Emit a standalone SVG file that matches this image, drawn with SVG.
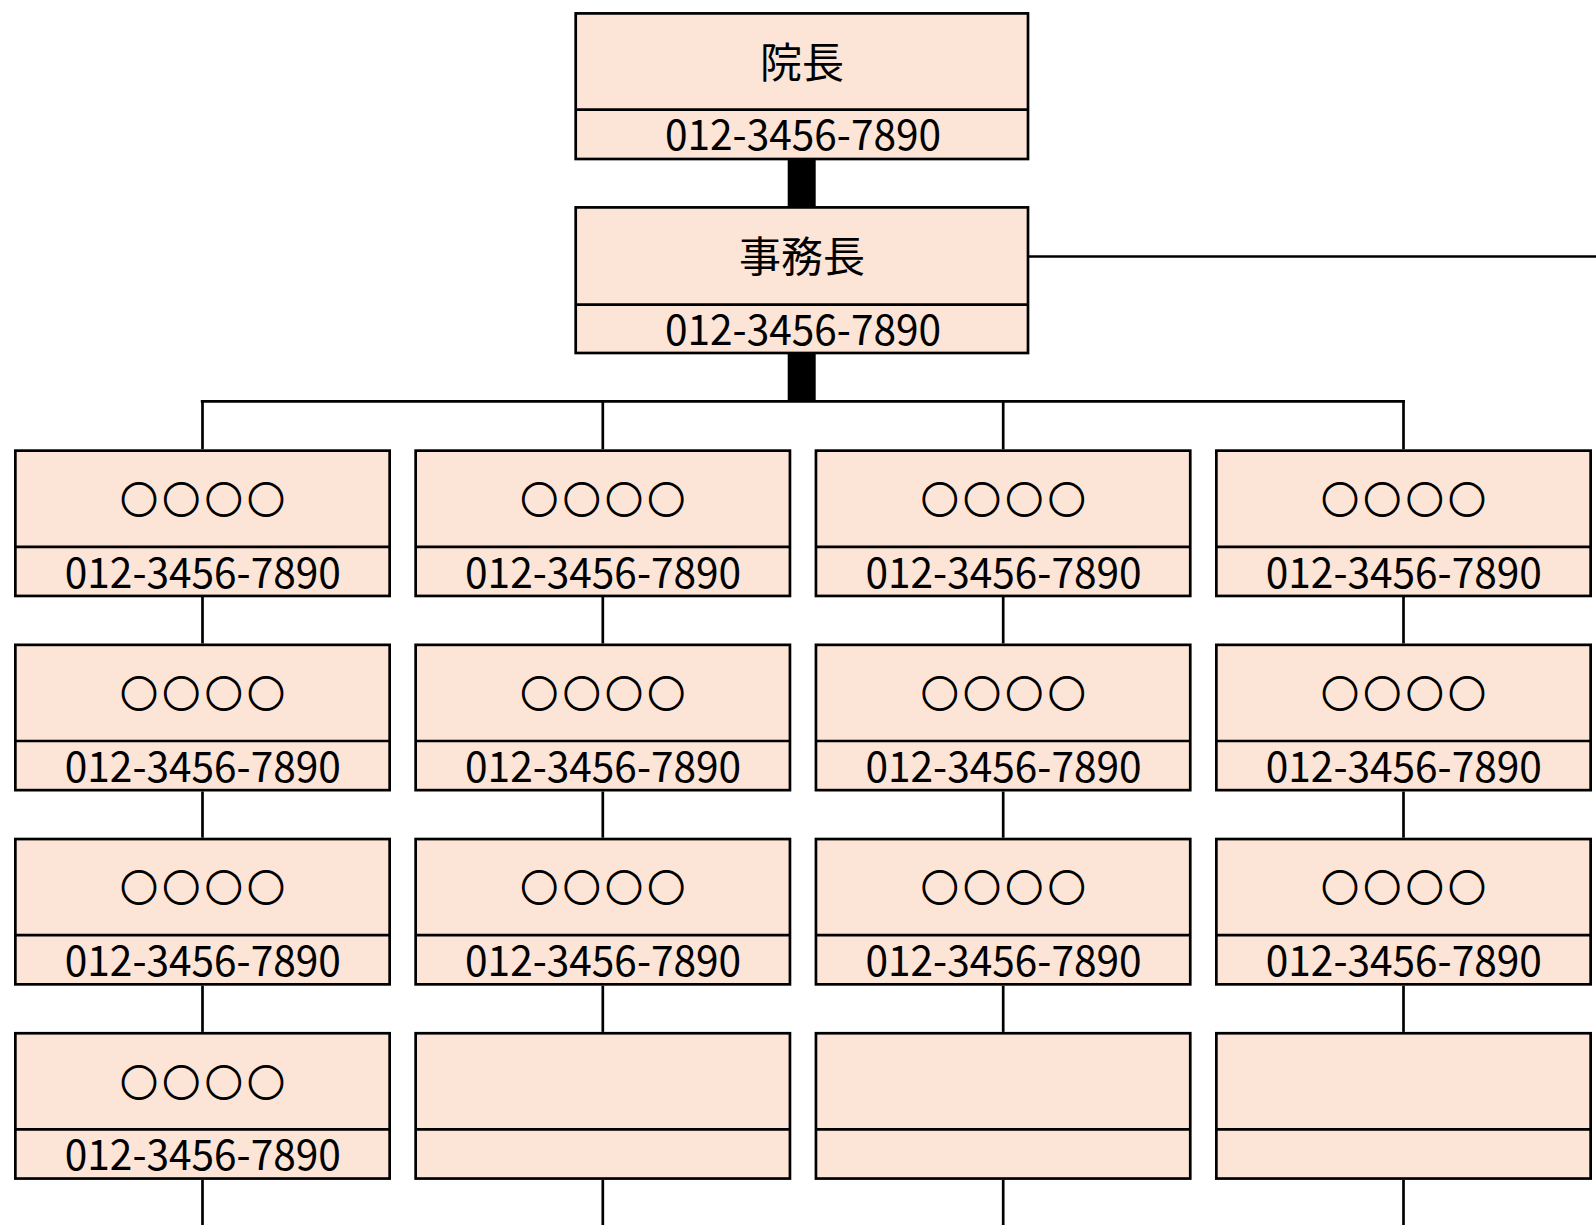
<svg xmlns="http://www.w3.org/2000/svg" width="1596" height="1225" viewBox="0 0 1596 1225">
<style>
.box{fill:#FCE4D6;stroke:#000;stroke-width:2.7}
.div{stroke:#000;stroke-width:2.7}
.ln{stroke:#000;stroke-width:2.7;fill:none}
.t{font-family:"Noto Sans CJK JP","Noto Sans CJK SC",sans-serif;fill:#000;text-anchor:middle;dominant-baseline:central}
.lab{font-size:42px}
.cir{font-size:37px;stroke:#000;stroke-width:1.3}
.ph{font-size:42px}
</style>
<rect width="1596" height="1225" fill="#fff"/>
<g id="connectors">
<rect x="787.7" y="159" width="28" height="48" fill="#000"/>
<rect x="787.7" y="353" width="28" height="48" fill="#000"/>
<line class="ln" x1="1029" y1="256.5" x2="1596" y2="256.5"/>
<line class="ln" x1="200.8" y1="401.3" x2="1404.8" y2="401.3"/>
<line class="ln" x1="202.5" y1="400" x2="202.5" y2="449.3"/>
<line class="ln" x1="602.8" y1="400" x2="602.8" y2="449.3"/>
<line class="ln" x1="1003.2" y1="400" x2="1003.2" y2="449.3"/>
<line class="ln" x1="1403.5" y1="400" x2="1403.5" y2="449.3"/>
<line class="ln" x1="202.5" y1="597" x2="202.5" y2="643.5"/>
<line class="ln" x1="202.5" y1="791.5" x2="202.5" y2="837.7"/>
<line class="ln" x1="202.5" y1="985.7" x2="202.5" y2="1031.9"/>
<line class="ln" x1="202.5" y1="1180" x2="202.5" y2="1225"/>
<line class="ln" x1="602.8" y1="597" x2="602.8" y2="643.5"/>
<line class="ln" x1="602.8" y1="791.5" x2="602.8" y2="837.7"/>
<line class="ln" x1="602.8" y1="985.7" x2="602.8" y2="1031.9"/>
<line class="ln" x1="602.8" y1="1180" x2="602.8" y2="1225"/>
<line class="ln" x1="1003.2" y1="597" x2="1003.2" y2="643.5"/>
<line class="ln" x1="1003.2" y1="791.5" x2="1003.2" y2="837.7"/>
<line class="ln" x1="1003.2" y1="985.7" x2="1003.2" y2="1031.9"/>
<line class="ln" x1="1003.2" y1="1180" x2="1003.2" y2="1225"/>
<line class="ln" x1="1403.5" y1="597" x2="1403.5" y2="643.5"/>
<line class="ln" x1="1403.5" y1="791.5" x2="1403.5" y2="837.7"/>
<line class="ln" x1="1403.5" y1="985.7" x2="1403.5" y2="1031.9"/>
<line class="ln" x1="1403.5" y1="1180" x2="1403.5" y2="1225"/>
</g>
<g id="director">
<rect class="box" x="575.7" y="13.4" width="452.3" height="145.6"/>
<line class="div" x1="575.7" y1="109.7" x2="1028" y2="109.7"/>
<text class="t lab" x="802" y="59.5">院長</text>
<text class="t ph" x="803" y="131.5" textLength="276" lengthAdjust="spacingAndGlyphs">012-3456-7890</text>
</g>
<g id="office-manager">
<rect class="box" x="575.7" y="207.4" width="452.3" height="145.6"/>
<line class="div" x1="575.7" y1="304.7" x2="1028" y2="304.7"/>
<text class="t lab" x="802" y="253">事務長</text>
<text class="t ph" x="803" y="326" textLength="276" lengthAdjust="spacingAndGlyphs">012-3456-7890</text>
</g>
<g id="n-1-1"><rect class="box" x="15.35" y="450.65" width="374.3" height="145.3"/><line class="div" x1="15.35" y1="546.8" x2="389.65" y2="546.8"/><text class="t cir" x="202.5" y="498" textLength="164" lengthAdjust="spacing">○○○○</text><text class="t ph" x="202.8" y="569" textLength="276" lengthAdjust="spacingAndGlyphs">012-3456-7890</text></g>
<g id="n-1-2"><rect class="box" x="15.35" y="644.85" width="374.3" height="145.3"/><line class="div" x1="15.35" y1="741" x2="389.65" y2="741"/><text class="t cir" x="202.5" y="692.2" textLength="164" lengthAdjust="spacing">○○○○</text><text class="t ph" x="202.8" y="763.2" textLength="276" lengthAdjust="spacingAndGlyphs">012-3456-7890</text></g>
<g id="n-1-3"><rect class="box" x="15.35" y="839.05" width="374.3" height="145.3"/><line class="div" x1="15.35" y1="935.2" x2="389.65" y2="935.2"/><text class="t cir" x="202.5" y="886.4" textLength="164" lengthAdjust="spacing">○○○○</text><text class="t ph" x="202.8" y="957.4" textLength="276" lengthAdjust="spacingAndGlyphs">012-3456-7890</text></g>
<g id="n-1-4"><rect class="box" x="15.35" y="1033.25" width="374.3" height="145.3"/><line class="div" x1="15.35" y1="1129.4" x2="389.65" y2="1129.4"/><text class="t cir" x="202.5" y="1080.6" textLength="164" lengthAdjust="spacing">○○○○</text><text class="t ph" x="202.8" y="1151.6" textLength="276" lengthAdjust="spacingAndGlyphs">012-3456-7890</text></g>
<g id="n-2-1"><rect class="box" x="415.65" y="450.65" width="374.3" height="145.3"/><line class="div" x1="415.65" y1="546.8" x2="789.95" y2="546.8"/><text class="t cir" x="602.8" y="498" textLength="164" lengthAdjust="spacing">○○○○</text><text class="t ph" x="603.1" y="569" textLength="276" lengthAdjust="spacingAndGlyphs">012-3456-7890</text></g>
<g id="n-2-2"><rect class="box" x="415.65" y="644.85" width="374.3" height="145.3"/><line class="div" x1="415.65" y1="741" x2="789.95" y2="741"/><text class="t cir" x="602.8" y="692.2" textLength="164" lengthAdjust="spacing">○○○○</text><text class="t ph" x="603.1" y="763.2" textLength="276" lengthAdjust="spacingAndGlyphs">012-3456-7890</text></g>
<g id="n-2-3"><rect class="box" x="415.65" y="839.05" width="374.3" height="145.3"/><line class="div" x1="415.65" y1="935.2" x2="789.95" y2="935.2"/><text class="t cir" x="602.8" y="886.4" textLength="164" lengthAdjust="spacing">○○○○</text><text class="t ph" x="603.1" y="957.4" textLength="276" lengthAdjust="spacingAndGlyphs">012-3456-7890</text></g>
<g id="n-2-4"><rect class="box" x="415.65" y="1033.25" width="374.3" height="145.3"/><line class="div" x1="415.65" y1="1129.4" x2="789.95" y2="1129.4"/></g>
<g id="n-3-1"><rect class="box" x="815.95" y="450.65" width="374.3" height="145.3"/><line class="div" x1="815.95" y1="546.8" x2="1190.25" y2="546.8"/><text class="t cir" x="1003.2" y="498" textLength="164" lengthAdjust="spacing">○○○○</text><text class="t ph" x="1003.5" y="569" textLength="276" lengthAdjust="spacingAndGlyphs">012-3456-7890</text></g>
<g id="n-3-2"><rect class="box" x="815.95" y="644.85" width="374.3" height="145.3"/><line class="div" x1="815.95" y1="741" x2="1190.25" y2="741"/><text class="t cir" x="1003.2" y="692.2" textLength="164" lengthAdjust="spacing">○○○○</text><text class="t ph" x="1003.5" y="763.2" textLength="276" lengthAdjust="spacingAndGlyphs">012-3456-7890</text></g>
<g id="n-3-3"><rect class="box" x="815.95" y="839.05" width="374.3" height="145.3"/><line class="div" x1="815.95" y1="935.2" x2="1190.25" y2="935.2"/><text class="t cir" x="1003.2" y="886.4" textLength="164" lengthAdjust="spacing">○○○○</text><text class="t ph" x="1003.5" y="957.4" textLength="276" lengthAdjust="spacingAndGlyphs">012-3456-7890</text></g>
<g id="n-3-4"><rect class="box" x="815.95" y="1033.25" width="374.3" height="145.3"/><line class="div" x1="815.95" y1="1129.4" x2="1190.25" y2="1129.4"/></g>
<g id="n-4-1"><rect class="box" x="1216.35" y="450.65" width="374.3" height="145.3"/><line class="div" x1="1216.35" y1="546.8" x2="1590.65" y2="546.8"/><text class="t cir" x="1403.5" y="498" textLength="164" lengthAdjust="spacing">○○○○</text><text class="t ph" x="1403.8" y="569" textLength="276" lengthAdjust="spacingAndGlyphs">012-3456-7890</text></g>
<g id="n-4-2"><rect class="box" x="1216.35" y="644.85" width="374.3" height="145.3"/><line class="div" x1="1216.35" y1="741" x2="1590.65" y2="741"/><text class="t cir" x="1403.5" y="692.2" textLength="164" lengthAdjust="spacing">○○○○</text><text class="t ph" x="1403.8" y="763.2" textLength="276" lengthAdjust="spacingAndGlyphs">012-3456-7890</text></g>
<g id="n-4-3"><rect class="box" x="1216.35" y="839.05" width="374.3" height="145.3"/><line class="div" x1="1216.35" y1="935.2" x2="1590.65" y2="935.2"/><text class="t cir" x="1403.5" y="886.4" textLength="164" lengthAdjust="spacing">○○○○</text><text class="t ph" x="1403.8" y="957.4" textLength="276" lengthAdjust="spacingAndGlyphs">012-3456-7890</text></g>
<g id="n-4-4"><rect class="box" x="1216.35" y="1033.25" width="374.3" height="145.3"/><line class="div" x1="1216.35" y1="1129.4" x2="1590.65" y2="1129.4"/></g>
</svg>
